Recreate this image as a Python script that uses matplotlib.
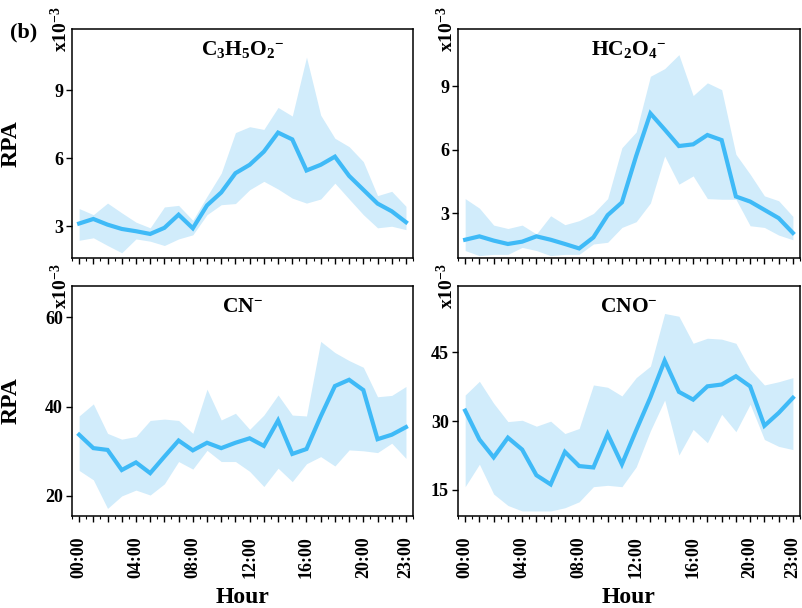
import numpy as np
import matplotlib
matplotlib.use("Agg")
import matplotlib.pyplot as plt
from matplotlib.ticker import FixedLocator, FixedFormatter, MultipleLocator

matplotlib.rcParams.update({
    'font.family': 'Liberation Serif',
    'font.weight': 'bold',
    'mathtext.fontset': 'custom',
    'mathtext.rm': 'Liberation Serif:bold',
    'mathtext.bf': 'Liberation Serif:bold',
    'mathtext.it': 'Liberation Serif:bold:italic',
    'axes.linewidth': 1.1,
})

hours = np.arange(24)
hour_ticks = [0, 4, 8, 12, 16, 20, 23]
hour_labels = ['00:00', '04:00', '08:00', '12:00', '16:00', '20:00', '23:00']

# mean diurnal profiles (x10^-3) with lower/upper envelope
c3h5o2_mean = [3.12, 3.32, 3.07, 2.88, 2.78, 2.66, 2.93, 3.51, 2.91, 3.92, 4.49, 5.34,
               5.71, 6.29, 7.13, 6.83, 5.46, 5.71, 6.07, 5.22, 4.61, 4.00, 3.66, 3.18]
c3h5o2_up = [3.78, 3.51, 4.02, 3.59, 3.18, 2.93, 3.85, 3.92, 3.26, 4.32, 5.34, 7.13,
             7.39, 7.27, 8.24, 7.86, 10.46, 7.90, 6.88, 6.51, 5.85, 4.35, 4.54, 3.88]
c3h5o2_lo = [2.38, 2.49, 2.15, 1.83, 2.44, 2.34, 2.15, 2.44, 2.62, 3.51, 3.95, 4.00,
             4.61, 4.98, 4.64, 4.24, 4.02, 4.20, 4.90, 4.20, 3.51, 2.93, 3.00, 2.85]

hc2o4_mean = [1.76, 1.92, 1.72, 1.56, 1.67, 1.92, 1.76, 1.56, 1.35, 1.87, 2.92, 3.52,
              5.71, 7.72, 6.96, 6.18, 6.26, 6.70, 6.46, 3.80, 3.56, 3.17, 2.78, 2.08]
hc2o4_up = [3.70, 3.25, 2.45, 2.29, 2.45, 2.03, 2.89, 2.47, 2.66, 3.00, 3.70, 6.10,
            6.84, 9.47, 9.83, 10.49, 8.56, 9.16, 8.84, 5.79, 4.85, 3.83, 3.60, 2.86]
hc2o4_lo = [1.25, 1.01, 1.07, 1.07, 1.40, 1.25, 1.01, 1.07, 1.07, 1.56, 1.64, 2.34,
            2.61, 3.49, 5.71, 4.38, 4.77, 3.70, 3.67, 3.67, 2.42, 2.34, 1.98, 1.76]

cn_mean = [33.7, 30.7, 30.3, 25.8, 27.5, 25.1, 28.8, 32.4, 30.2, 31.9, 30.7, 31.9,
           32.9, 31.2, 36.9, 29.4, 30.5, 37.8, 44.6, 46.0, 43.7, 32.7, 33.7, 35.4]
cn_up = [37.9, 40.6, 34.0, 32.7, 33.3, 36.9, 37.2, 36.9, 34.0, 43.9, 37.0, 38.5,
         34.9, 38.1, 42.6, 38.1, 37.9, 54.6, 52.1, 50.3, 48.8, 42.2, 42.5, 44.5]
cn_lo = [25.7, 23.6, 17.2, 20.0, 21.3, 20.2, 22.7, 27.7, 26.0, 30.2, 27.7, 27.7,
         25.5, 22.1, 26.2, 23.2, 27.2, 28.8, 26.7, 30.3, 30.1, 29.7, 31.8, 28.4]

cno_mean = [32.3, 26.0, 22.1, 26.4, 23.8, 18.2, 16.2, 23.3, 20.2, 19.9, 27.2, 20.6,
            28.0, 35.2, 43.2, 36.4, 34.7, 37.6, 38.0, 39.8, 37.6, 29.0, 31.8, 35.1]
cno_up = [35.7, 38.7, 33.9, 29.9, 30.2, 28.9, 30.0, 27.3, 28.4, 37.9, 37.4, 35.5,
          39.5, 42.0, 53.5, 52.9, 47.0, 48.1, 47.9, 47.0, 41.3, 37.9, 38.6, 39.5]
cno_lo = [15.7, 20.6, 14.1, 11.6, 10.4, 10.4, 10.4, 11.1, 12.4, 15.7, 16.0, 15.7,
          20.0, 27.9, 34.6, 22.6, 28.2, 25.3, 31.5, 27.7, 33.7, 26.0, 24.5, 23.8]

titles = [r'$\mathrm{C_3H_5O_2{}^{-}}$', r'$\mathrm{HC_2O_4{}^{-}}$',
          r'$\mathrm{CN^{-}}$', r'$\mathrm{CNO^{-}}$']
means = [c3h5o2_mean, hc2o4_mean, cn_mean, cno_mean]
uppers = [c3h5o2_up, hc2o4_up, cn_up, cno_up]
lowers = [c3h5o2_lo, hc2o4_lo, cn_lo, cno_lo]
yticks = [[3, 6, 9], [3, 6, 9], [20, 40, 60], [15, 30, 45]]
ylims = [(1.6, 11.7), (0.9, 11.7), (15.5, 67), (9.3, 59.5)]

line_color = '#3FBAF7'
band_color = '#D1ECFB'

fig = plt.figure(figsize=(8.03, 6.08), dpi=100)
boxes = [[0.0897, 0.5757, 0.4247, 0.3766],
         [0.5704, 0.5757, 0.4259, 0.3766],
         [0.0897, 0.1513, 0.4247, 0.3783],
         [0.5704, 0.1513, 0.4259, 0.3783]]

for i in range(4):
    ax = fig.add_axes(boxes[i])
    ax.fill_between(hours, lowers[i], uppers[i], color=band_color, linewidth=0)
    ax.plot(hours, means[i], color=line_color, linewidth=3.0, solid_joinstyle='miter')
    ax.set_xlim(-0.5, 23.5)
    ax.set_ylim(*ylims[i])
    ax.xaxis.set_major_locator(FixedLocator(hours))
    labels = [hour_labels[hour_ticks.index(h)] if h in hour_ticks else '' for h in hours]
    ax.xaxis.set_minor_locator(MultipleLocator(0.5))
    ax.tick_params(axis='x', which='major', length=4.5, width=1.0, direction='out')
    ax.tick_params(axis='x', which='minor', length=1.8, width=0.8, direction='out')
    ax.set_yticks(yticks[i])
    ax.tick_params(axis='y', length=4.5, width=1.0, pad=2, labelsize=13)
    if i >= 2:
        ax.xaxis.set_major_formatter(FixedFormatter(labels))
        ax.tick_params(axis='x', which='major', labelsize=13, labelrotation=90, pad=10)
        ax.set_xlabel('Hour', fontsize=17, fontweight='bold')
        ax.xaxis.set_label_coords(0.5, -0.31)
    else:
        ax.set_xticklabels([])
    if i % 2 == 0:
        ax.set_ylabel('RPA', fontsize=17, fontweight='bold')
        ax.yaxis.set_label_coords(-0.147, 0.5)
    ax.text(0.5, 0.91, titles[i], transform=ax.transAxes, ha='center', va='center',
            fontsize=15.5)
    ax.text(-0.035, 1.0, r'$\mathrm{x10^{-3}}$', transform=ax.transAxes, ha='center',
            va='center', rotation=90, fontsize=14)

fig.text(0.012, 0.947, '(b)', ha='left', va='center', fontsize=16, fontweight='bold')

fig.savefig('out.png', dpi=100)
